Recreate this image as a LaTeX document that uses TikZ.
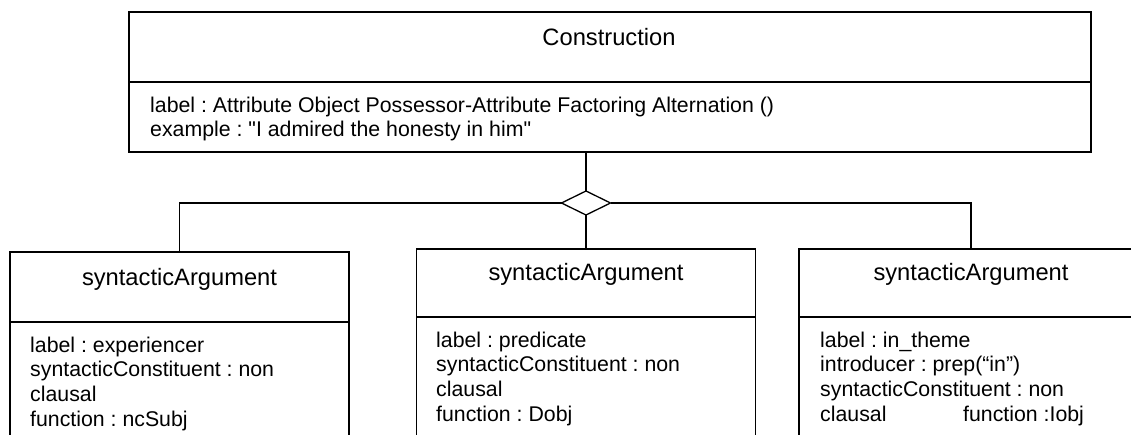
\documentclass[tikz,border=0pt]{standalone}
\usepackage{fontspec}
\setmainfont{Liberation Sans}[Ligatures=TeXOff]
\usetikzlibrary{shapes.geometric}
\frenchspacing
\begin{document}
\begin{tikzpicture}[x=1pt,y=-1pt,
  umlbox/.style={draw, line width=1.2pt, rectangle, inner sep=0pt, outer sep=0pt},
  divider/.style={line width=1.8pt},
  link/.style={line width=1.3pt},
  titletext/.style={font=\fontsize{23.7}{28}\selectfont, inner sep=0pt, anchor=base},
  attrtext/.style={font=\fontsize{21.3}{24.6}\selectfont, inner sep=0pt, anchor=north west, align=left},
  aggmark/.style={diamond, draw, fill=white, line width=1.3pt, minimum width=49pt,
    minimum height=24pt, inner sep=0pt, outer sep=0pt}]
\useasboundingbox (0,0) rectangle (1131,435);
\clip (0,0) rectangle (1131,435);

% class boxes
\node[umlbox, minimum width=962pt, minimum height=140pt] (cons) at (610,82) {};
\node[umlbox, minimum width=339pt, minimum height=218pt] (argA) at (179.5,361) {};
\node[umlbox, minimum width=339pt, minimum height=221pt] (argB) at (586,359.5) {};
\node[umlbox, minimum width=344pt, minimum height=221pt] (argC) at (971,359.5) {};

% compartment separators
\draw[divider] (cons.west |- 0,82) -- (cons.east |- 0,82);
\draw[divider] (argA.west |- 0,322) -- (argA.east |- 0,322);
\draw[divider] (argB.west |- 0,317) -- (argB.east |- 0,317);
\draw[divider] (argC.west |- 0,317) -- (argC.east |- 0,317);

% aggregation
\node[aggmark] (agg) at (586,203) {};
\draw[link] (cons.south -| agg.north) -- (agg.north);
\draw[link] (agg.west) -| (argA.north);
\draw[link] (agg.east) -| (argC.north);
\draw[link] (agg.south) -- (argB.north);

% names
\node[titletext] (consname) at (609,46) {Construction};
\node[titletext] (argAname) at (179.5,286) {syntacticArgument};
\node[titletext] (argBname) at (586,281) {syntacticArgument};
\node[titletext] (argCname) at (971,281) {syntacticArgument};

% attributes
\node[attrtext] (consattr) at (150,94.78) {\strut label : Attribute Object Possessor-Attribute Factoring Alternation ()\\
  example : "I admired the honesty in him"};
\node[attrtext] (argAattr) at (30,334.78) {\strut label : experiencer\\
  syntacticConstituent : non\\ clausal\\ function : ncSubj};
\node[attrtext] (argBattr) at (436,329.78) {\strut label : predicate\\
  syntacticConstituent : non\\ clausal\\ function : Dobj};
\node[attrtext] (argCattr) at (820,329.78) {\strut label : in\_theme\\
  introducer : prep(“in”)\\ syntacticConstituent : non\\
  \makebox[143pt][l]{clausal}function :Iobj};
\end{tikzpicture}
\end{document}
